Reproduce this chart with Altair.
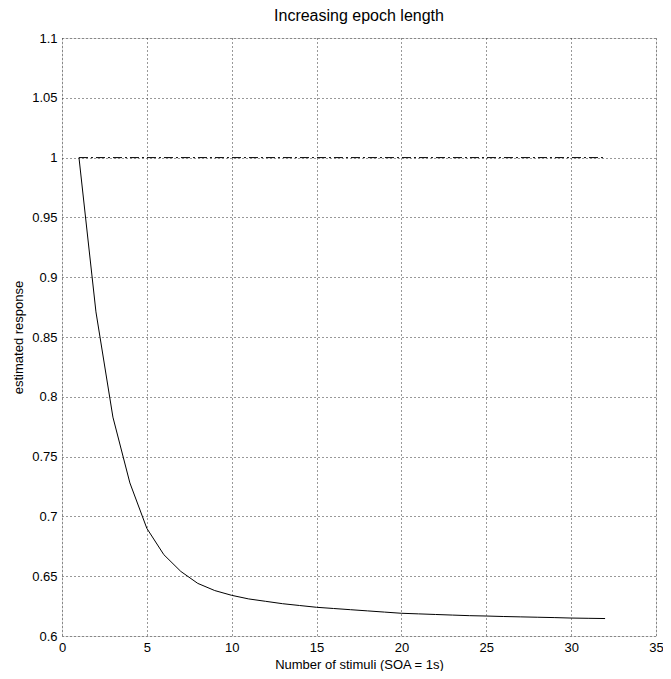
import altair as alt
import pandas as pd

stimuli = list(range(1, 33))
response = [1.000, 0.871, 0.783, 0.728, 0.690, 0.668, 0.654, 0.644, 0.638, 0.634,
            0.631, 0.629, 0.627, 0.6255, 0.624, 0.623, 0.622, 0.621, 0.620, 0.619,
            0.6185, 0.618, 0.6175, 0.617, 0.6167, 0.6163, 0.616, 0.6157, 0.6154, 0.615,
            0.6148, 0.6146]
ref_x = [1, 32]
ref_y = [1.0, 1.0]

x_ticks = [0, 5, 10, 15, 20, 25, 30, 35]
y_ticks = [0.6, 0.65, 0.7, 0.75, 0.8, 0.85, 0.9, 0.95, 1.0, 1.05, 1.1]

df = pd.DataFrame({"x": stimuli, "y": response})
ref = pd.DataFrame({"x": ref_x, "y": ref_y})

font = "Liberation Sans"

xscale = alt.Scale(domain=[0, 35], nice=False, zero=False)
yscale = alt.Scale(domain=[0.6, 1.1], nice=False, zero=False)

xaxis = alt.Axis(values=x_ticks, title="Number of stimuli (SOA = 1s)", grid=True,
                 gridDash=[1, 3], gridColor="#333", gridWidth=1, tickSize=0,
                 labelPadding=5, labelFont=font, labelFontSize=13, labelColor="black",
                 titleFont=font, titleFontSize=13, titleFontWeight="normal",
                 titleColor="black", titlePadding=4, domain=False, labelFlush=False)
yaxis = alt.Axis(values=y_ticks, format="~g", title="estimated response", grid=True,
                 gridDash=[1, 3], gridColor="#333", gridWidth=1, tickSize=0,
                 labelPadding=5, labelFont=font, labelFontSize=13, labelColor="black",
                 titleFont=font, titleFontSize=13, titleFontWeight="normal",
                 titleColor="black", titlePadding=6, domain=False)

line = alt.Chart(df).mark_line(color="black", strokeWidth=1).encode(
    x=alt.X("x:Q", scale=xscale, axis=xaxis),
    y=alt.Y("y:Q", scale=yscale, axis=yaxis),
)

refline = alt.Chart(ref).mark_line(color="black", strokeWidth=1,
                                   strokeDash=[9, 3, 2, 3]).encode(
    x=alt.X("x:Q", scale=xscale),
    y=alt.Y("y:Q", scale=yscale),
)

chart = alt.layer(refline, line).properties(
    width=594, height=598,
    title=alt.TitleParams("Increasing epoch length", font=font, fontSize=16,
                          fontWeight="normal", color="black", offset=8),
    autosize=alt.AutoSizeParams(type="none"),
    padding={"left": 54, "top": 30, "right": 7, "bottom": 35},
).configure_view(stroke="black", strokeWidth=1.5).configure(background="white")

chart.save("out.html", embed_options={"renderer": "svg", "actions": False})
